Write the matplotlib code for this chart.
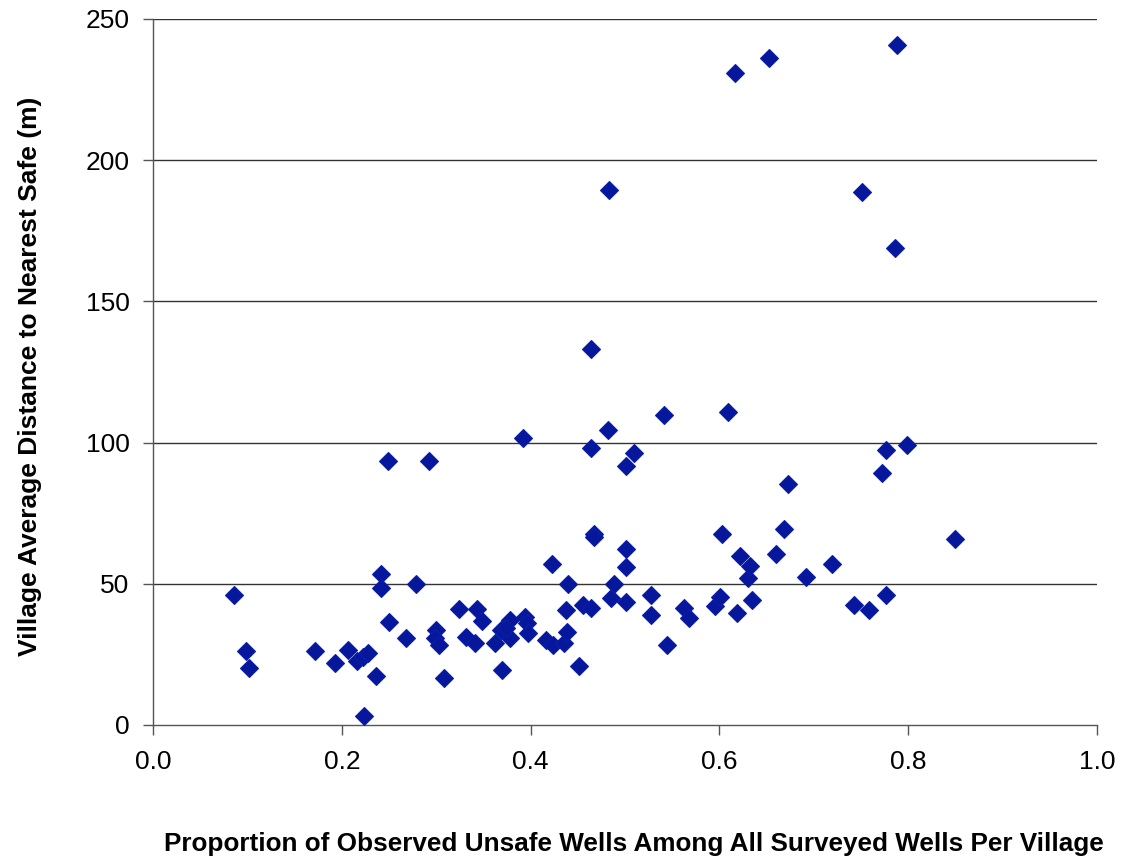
import matplotlib
matplotlib.use("Agg")
import matplotlib.pyplot as plt

plt.rcParams['font.family'] = ['Liberation Sans', 'DejaVu Sans']

x_prop = [0.086, 0.099, 0.102, 0.172, 0.193, 0.207, 0.216, 0.222, 0.228, 0.236,
          0.223, 0.241, 0.241, 0.249, 0.250, 0.268, 0.279, 0.292, 0.300, 0.299,
          0.303, 0.308, 0.324, 0.332, 0.341, 0.343, 0.349, 0.362, 0.369, 0.370,
          0.378, 0.378, 0.374, 0.392, 0.394, 0.396, 0.397, 0.416, 0.424, 0.423,
          0.435, 0.439, 0.437, 0.440, 0.451, 0.455, 0.464, 0.464, 0.464, 0.467,
          0.467, 0.482, 0.483, 0.485, 0.488, 0.501, 0.501, 0.501, 0.501, 0.509,
          0.528, 0.528, 0.541, 0.544, 0.562, 0.568, 0.595, 0.601, 0.603, 0.609,
          0.617, 0.619, 0.622, 0.630, 0.632, 0.635, 0.652, 0.660, 0.668, 0.673,
          0.692, 0.719, 0.743, 0.751, 0.758, 0.772, 0.777, 0.777, 0.786, 0.788,
          0.799, 0.850]
y_dist = [46.0, 26.3, 20.1, 26.3, 21.8, 26.5, 22.8, 24.0, 25.4, 17.4,
          3.2, 53.5, 48.5, 93.6, 36.3, 30.8, 49.8, 93.6, 33.8, 30.8,
          28.5, 16.5, 40.9, 31.0, 29.0, 40.9, 36.9, 29.0, 33.7, 19.3,
          37.2, 30.8, 34.2, 101.7, 38.4, 36.0, 32.5, 30.1, 28.4, 56.9,
          29.0, 33.1, 40.8, 49.8, 21.0, 42.6, 41.6, 133.2, 98.2, 67.8,
          66.6, 104.4, 189.6, 44.9, 50.0, 62.3, 55.9, 43.4, 91.8, 96.3,
          46.1, 39.0, 109.8, 28.4, 41.4, 37.8, 42.2, 45.2, 67.5, 110.8,
          230.9, 39.8, 59.7, 52.2, 56.4, 44.3, 236.2, 60.4, 69.3, 85.5,
          52.3, 56.9, 42.5, 188.8, 40.7, 89.2, 46.0, 97.3, 169.0, 240.8,
          99.0, 65.8]

x_ticks = [0.0, 0.2, 0.4, 0.6, 0.8, 1.0]
x_tick_labels = ['0.0', '0.2', '0.4', '0.6', '0.8', '1.0']
y_ticks = [0, 50, 100, 150, 200, 250]

fig = plt.figure(figsize=(11.21, 8.59), dpi=100)
ax = fig.add_axes([0.1365, 0.156, 0.8421, 0.8219])

ax.plot(x_prop, y_dist, linestyle='none', marker='D', markersize=9.5,
        markerfacecolor='#07179c', markeredgecolor='#0a1ea8', markeredgewidth=0.8,
        zorder=3)

ax.set_xlim(0, 1.0)
ax.set_ylim(0, 250)
ax.set_xticks(x_ticks)
ax.set_xticklabels(x_tick_labels)
ax.set_yticks(y_ticks)

for yv in y_ticks[1:]:
    ax.axhline(yv, color='#333333', linewidth=1.0, zorder=1)

for side in ['top', 'right']:
    ax.spines[side].set_visible(False)
for side in ['left', 'bottom']:
    ax.spines[side].set_color('#555555')
    ax.spines[side].set_linewidth(1.0)

ax.tick_params(axis='both', direction='out', length=7, width=1.0,
               color='#555555', labelsize=19, labelcolor='black')
ax.tick_params(axis='x', pad=11)
ax.tick_params(axis='y', pad=10)

ax.set_xlabel('Proportion of Observed Unsafe Wells Among All Surveyed Wells Per Village',
              fontsize=18.8, fontweight='bold')
ax.set_ylabel('Village Average Distance to Nearest Safe (m)',
              fontsize=19, fontweight='bold')
ax.xaxis.set_label_coords(0.509, -0.1516)
ax.yaxis.set_label_coords(-0.1176, 0.494)

fig.savefig('out.png', dpi=100, facecolor='white')
